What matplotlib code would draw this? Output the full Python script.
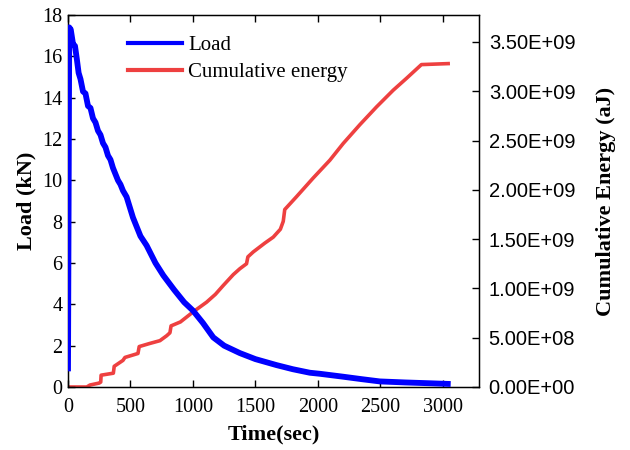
import matplotlib.pyplot as plt
from matplotlib.ticker import FormatStrFormatter

# load curve (time in s, load in kN)
load_t = [0, 10, 22, 40, 56, 70, 85, 100, 120, 140, 160, 180, 200, 220,
          240, 260, 280, 300, 320, 340, 360, 380, 400, 420, 440, 469, 520, 580, 629,
          700, 763, 850, 930, 1000, 1080, 1163, 1250, 1376, 1500, 1669, 1800, 1936,
          2016, 2200, 2350, 2496, 2700, 2900, 3040]
load_kn = [0.9, 17.4, 17.3, 16.6, 16.5, 15.9, 15.2, 14.9, 14.3, 14.2, 13.6, 13.5,
           13.0, 12.8, 12.4, 12.2, 11.8, 11.6, 11.2, 11.0, 10.6, 10.3, 10.0, 9.8,
           9.5, 9.2, 8.2, 7.3, 6.85, 6.0, 5.4, 4.7, 4.1, 3.7, 3.1, 2.4,
           2.0, 1.64, 1.35, 1.06, 0.86, 0.69, 0.64, 0.5, 0.38, 0.27, 0.22, 0.18, 0.15]

# cumulative energy (aJ)
energy_t = [0, 150, 176, 250, 262, 265, 363, 370, 440, 456, 560, 570, 650, 736,
            790, 816, 825, 900, 1000, 1109, 1180, 1243, 1323, 1376, 1429, 1440,
            1483, 1576, 1643, 1700, 1723, 1735, 1829, 1963, 2096, 2203, 2336, 2469,
            2603, 2709, 2829, 3043]
energy_e9 = [0.0, 0.0, 0.02, 0.04, 0.05, 0.12, 0.14, 0.21, 0.27, 0.30, 0.34, 0.41,
             0.44, 0.47, 0.52, 0.55, 0.62, 0.66, 0.76, 0.86, 0.94, 1.03, 1.14, 1.20,
             1.25, 1.32, 1.37, 1.46, 1.52, 1.60, 1.68, 1.80, 1.93, 2.12, 2.30, 2.47,
             2.66, 2.84, 3.01, 3.13, 3.27, 3.28]
energy = [e * 1e9 for e in energy_e9]

x_ticks = [0, 500, 1000, 1500, 2000, 2500, 3000]
load_ticks = [0, 2, 4, 6, 8, 10, 12, 14, 16, 18]
energy_ticks = [0, 0.5e9, 1.0e9, 1.5e9, 2.0e9, 2.5e9, 3.0e9, 3.5e9]

serif = 'Liberation Serif'
sans = 'Liberation Sans'

fig = plt.figure(figsize=(6.3, 4.5), dpi=100)
ax = fig.add_axes([68/630, 63/450, 411/630, 372/450])
ax2 = ax.twinx()

l1, = ax.plot(load_t, load_kn, color='#0000ff', lw=4.2, label='Load', zorder=3)
l2, = ax2.plot(energy_t, energy, color='#ee4040', lw=2.6, label='Cumulative energy')
ax.set_zorder(ax2.get_zorder() + 1)
ax.patch.set_visible(False)

ax.set_xlim(0, 3290)
ax.set_ylim(0, 18)
ax2.set_ylim(0, 3.773e9)
ax.set_xticks(x_ticks)
ax.set_yticks(load_ticks)
ax2.set_yticks(energy_ticks)
ax2.yaxis.set_major_formatter(FormatStrFormatter('%.2E'))

ax.tick_params(axis='both', direction='in', length=5, width=1, top=True, labelsize=14.5)
ax.tick_params(axis='x', pad=8)
ax.tick_params(axis='y', pad=4)
ax2.tick_params(axis='y', direction='in', length=5, width=1, labelsize=14.5, pad=7)
for lab in ax.get_xticklabels() + ax.get_yticklabels():
    lab.set_family(serif)
for lab in ax2.get_yticklabels():
    lab.set_family(sans)

ax.set_xlabel('Time(sec)', family=serif, fontweight='bold', fontsize=16, labelpad=5)
ax.set_ylabel('Load (kN)', family=serif, fontweight='bold', fontsize=16, labelpad=4)
ax2.set_ylabel('Cumulative Energy (aJ)', family=serif, fontweight='bold', fontsize=16,
               labelpad=15)

for sp in ax.spines.values():
    sp.set_linewidth(1)

leg = ax.legend(handles=[l1, l2], loc='upper left', bbox_to_anchor=(0.146, 0.945),
                frameon=False, prop={'family': serif, 'size': 15}, handlelength=2.6,
                handletextpad=0.3, labelspacing=0.35, borderpad=0, borderaxespad=0)
for h in leg.get_lines():
    h.set_linewidth(3)

fig.savefig('out.png', dpi=100)
